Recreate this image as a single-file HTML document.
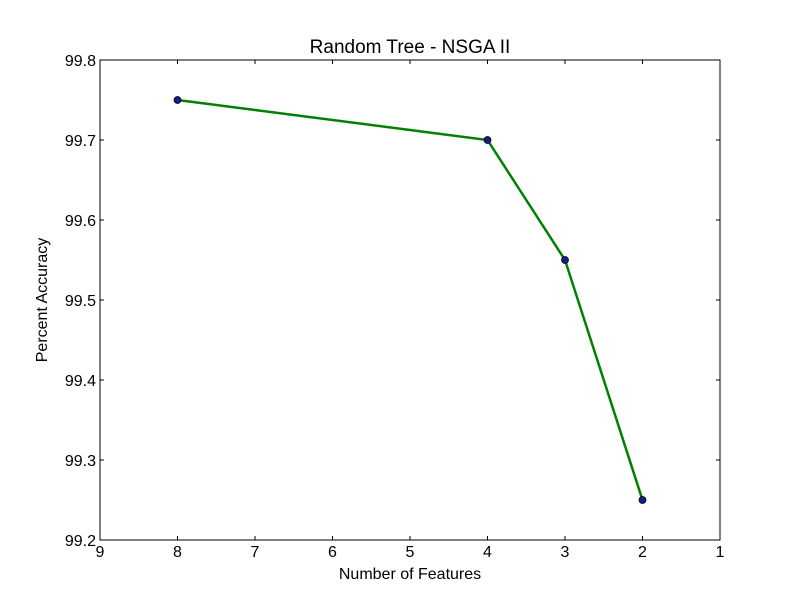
<!DOCTYPE html>
<html><head><meta charset="utf-8"><style>
body{margin:0;background:#fff;}
text{font-family:"Liberation Sans","DejaVu Sans",sans-serif;}
</style></head><body>
<svg id="chart" width="800" height="600" xmlns="http://www.w3.org/2000/svg">
<rect width="800" height="600" fill="#fff"/>
<g id="axes"></g>
<g id="series"></g>
<rect x="100" y="60" width="620" height="480" fill="none" stroke="#000" stroke-width="1"/>
<text x="410" y="53" text-anchor="middle" font-size="19">Random Tree - NSGA II</text>
<text x="410" y="579" text-anchor="middle" font-size="16">Number of Features</text>
<text transform="translate(47,300) rotate(-90)" text-anchor="middle" font-size="16">Percent Accuracy</text>
</svg>
<script>
const xTicks=[9,8,7,6,5,4,3,2,1];
const yTicks=[99.2,99.3,99.4,99.5,99.6,99.7,99.8];
const features=[8,4,3,2];
const accuracy=[99.75,99.70,99.55,99.25];
const NS="http://www.w3.org/2000/svg";
const L=100,R=720,T=60,B=540;
const xs=v=>L+(9-v)/(9-1)*(R-L);
const ys=v=>B-(v-99.2)/(99.8-99.2)*(B-T);
const ax=document.getElementById('axes'),se=document.getElementById('series');
function mk(tag,attrs,parent){const e=document.createElementNS(NS,tag);for(const k in attrs)e.setAttribute(k,attrs[k]);parent.appendChild(e);return e;}
xTicks.forEach(v=>{const x=xs(v);
 mk('line',{x1:x,x2:x,y1:B,y2:B-4,stroke:'#000'},ax);
 mk('line',{x1:x,x2:x,y1:T,y2:T+4,stroke:'#000'},ax);
 const t=mk('text',{x:x,y:B+17,'text-anchor':'middle','font-size':16},ax);t.textContent=v;
 
 });
yTicks.forEach(v=>{const y=ys(v);
 mk('line',{x1:L,x2:L+4,y1:y,y2:y,stroke:'#000'},ax);
 mk('line',{x1:R,x2:R-4,y1:y,y2:y,stroke:'#000'},ax);
 const t=mk('text',{x:L-4,y:y+6,'text-anchor':'end','font-size':16},ax);t.textContent=v.toFixed(1);
 
 });
const pts=features.map((f,i)=>xs(f)+','+ys(accuracy[i])).join(' ');
const line=mk('polyline',{points:pts,fill:'none',stroke:'#008000','stroke-width':2.5},se);


features.forEach((f,i)=>{const c=mk('circle',{cx:xs(f),cy:ys(accuracy[i]),r:3.5,fill:'#1a1a8c',stroke:'#000','stroke-width':0.8},se);
 
 });
</script>
</body></html>
